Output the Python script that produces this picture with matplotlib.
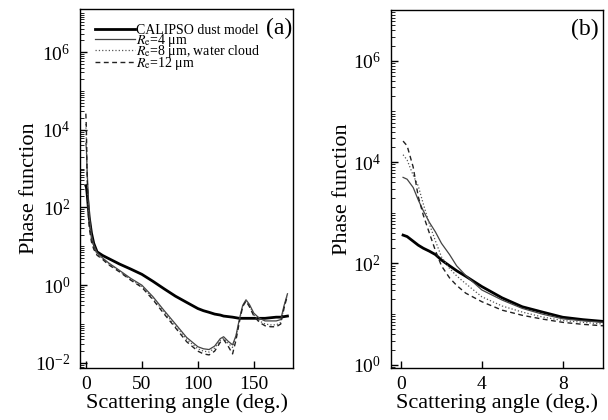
import numpy as np
import matplotlib
matplotlib.use("Agg")
import matplotlib.pyplot as plt
from matplotlib.ticker import LogLocator, NullFormatter, FixedLocator

plt.rcParams['font.family'] = ['Liberation Serif', 'DejaVu Serif']
plt.rcParams['mathtext.fontset'] = 'stix'

# ---- panel (a): full angular range ----
ang_a = [0, 0.5, 1, 2, 3, 5, 7, 10, 15, 20, 30, 40, 50, 60, 70, 80, 90, 100, 105, 110,
         115, 120, 123, 127, 131, 134, 137, 140, 143, 146, 150, 155, 160, 165, 170, 174, 177, 180]
dust_a = [363, 330, 250, 117, 56, 22, 12, 7.2, 5.8, 4.9, 3.5, 2.6, 1.9, 1.25, 0.8, 0.52, 0.36, 0.25, 0.22, 0.2,
          0.18, 0.17, 0.16, 0.155, 0.15, 0.145, 0.14, 0.14, 0.14, 0.14, 0.14, 0.14, 0.14, 0.145, 0.15, 0.15, 0.155, 0.16]
re4_a = [4500, 3200, 1100, 245, 66, 19, 11, 6.9, 5.0, 3.8, 2.4, 1.5, 1.0, 0.5, 0.22, 0.1, 0.045, 0.026, 0.023, 0.022,
         0.027, 0.042, 0.047, 0.036, 0.029, 0.05, 0.13, 0.3, 0.42, 0.32, 0.19, 0.14, 0.12, 0.12, 0.12, 0.13, 0.3, 0.6]
re8_a = [14000, 5000, 1000, 130, 45, 15, 9.5, 6.4, 4.8, 3.6, 2.3, 1.4, 0.93, 0.46, 0.2, 0.09, 0.04, 0.023, 0.02, 0.019,
         0.024, 0.038, 0.043, 0.032, 0.025, 0.045, 0.12, 0.29, 0.4, 0.3, 0.17, 0.12, 0.1, 0.095, 0.095, 0.11, 0.28, 0.58]
re12_a = [26000, 10000, 1000, 90, 30, 13, 8.5, 5.9, 4.6, 3.4, 2.2, 1.35, 0.88, 0.42, 0.18, 0.08, 0.035, 0.02, 0.017, 0.016,
          0.02, 0.034, 0.04, 0.027, 0.017, 0.038, 0.11, 0.28, 0.39, 0.28, 0.16, 0.11, 0.09, 0.085, 0.085, 0.1, 0.26, 0.55]

# ---- panel (b): forward peak, 0-10 deg ----
ang_b = [0.1, 0.3, 0.6, 0.85, 1.1, 1.4, 1.7, 2.0, 2.4, 2.75, 3.2, 4, 5, 6, 7, 8, 9, 10]
dust_b = [363, 340, 275, 230, 200, 175, 150, 117, 90, 72, 56, 35, 21, 14, 11, 8.7, 7.8, 7.2]
re4_b = [5000, 4600, 3160, 1800, 1100, 650, 420, 250, 150, 90, 58, 30, 19, 13, 10, 8.1, 7.4, 6.9]
re8_b = [14000, 11000, 5500, 3400, 1500, 600, 280, 135, 80, 57, 40, 22, 14.5, 11, 8.8, 7.5, 6.9, 6.4]
re12_b = [26000, 21000, 8000, 2100, 900, 400, 180, 90, 52, 37, 26, 17.6, 12, 9.5, 8, 6.9, 6.3, 5.9]

fig = plt.figure(figsize=(6.08, 4.2), dpi=100)
ax1 = fig.add_axes([0.132, 0.124, 0.350, 0.855])
ax2 = fig.add_axes([0.643, 0.124, 0.349, 0.852])


def draw(ax, x, dust, r4, r8, r12, ypad):
    ax.semilogy(x, dust, color='black', lw=2.0, label='CALIPSO dust model')
    ax.semilogy(x, r4, color='#444444', lw=0.9, ls='-', label=r'$R_\mathrm{e}$=4 μm')
    ax.semilogy(x, r8, color='#555555', lw=0.9, ls=':', label=r'$R_\mathrm{e}$=8 μm, water cloud')
    ax.semilogy(x, r12, color='#222222', lw=1.0, ls=(0, (3.5, 2.5)), label=r'$R_\mathrm{e}$=12 μm')
    ax.yaxis.set_major_locator(FixedLocator([1e-2, 1e0, 1e2, 1e4, 1e6]))
    ax.yaxis.set_minor_locator(LogLocator(base=10, subs=np.arange(1, 10), numticks=100))
    ax.yaxis.set_minor_formatter(NullFormatter())
    ax.tick_params(direction='in', labelsize=14, length=5, width=1)
    ax.tick_params(axis='y', pad=7)
    ax.tick_params(axis='x', pad=6)
    ax.tick_params(which='minor', direction='in', length=3, width=0.6)
    ax.tick_params(top=False, right=False)
    ax.set_ylabel('Phase function', fontsize=16, labelpad=ypad)
    ax.set_xlabel('Scattering angle (deg.)', fontsize=16, labelpad=0)
    for s in ax.spines.values():
        s.set_linewidth(1.0)


draw(ax1, ang_a, dust_a, re4_a, re8_a, re12_a, -3)
ax1.set_xlim(-5, 185)
ax1.set_ylim(0.0074, 1.3e7)
ax1.set_xticks([0, 50, 100, 150])
ax1.text(0.995, 0.975, '(a)', transform=ax1.transAxes, ha='right', va='top', fontsize=17)
ax1.legend(loc='upper left', bbox_to_anchor=(0.03, 0.98), frameon=False, fontsize=10,
           handlelength=2.9, handletextpad=0.05, labelspacing=-0.4, borderaxespad=0.2)

draw(ax2, ang_b, dust_b, re4_b, re8_b, re12_b, 1)
ax2.set_xlim(-0.5, 10)
ax2.set_ylim(0.87, 1e7)
ax2.set_xticks([0, 4, 8])
ax2.text(0.98, 0.975, '(b)', transform=ax2.transAxes, ha='right', va='top', fontsize=17)

fig.savefig('out.png', dpi=100)
